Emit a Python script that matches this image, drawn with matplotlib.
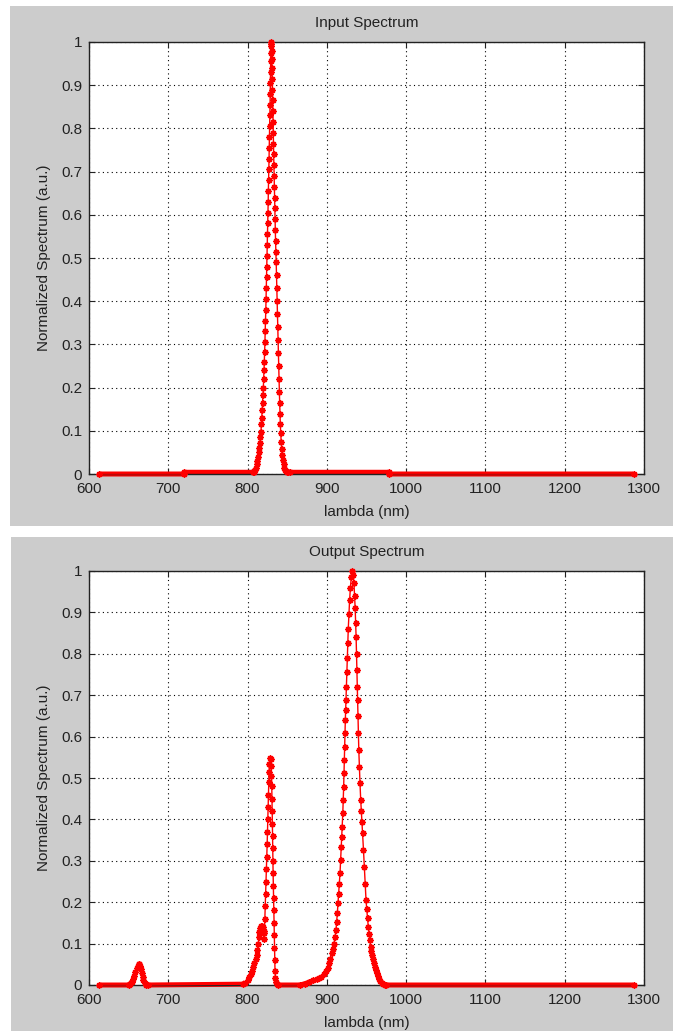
import numpy as np
import matplotlib
matplotlib.use("Agg")
import matplotlib.pyplot as plt
from matplotlib.patches import Rectangle

plt.rcParams['font.family'] = ['Liberation Sans', 'DejaVu Sans']

# --------------------------------------------------
# data (wavelength nm, normalized amplitude)
# --------------------------------------------------
input_wl = [
    613, 720, 720, 806.5,
    807.5, 808.5, 809.5, 810.5, 811.5, 812.5, 813.3, 814.0, 814.8, 815.5,
    816.2, 816.9, 817.4, 817.9, 818.4, 818.9, 819.4, 819.9, 820.3, 820.7,
    821.1, 821.5, 821.9, 822.2, 822.6, 823.0, 823.3, 823.6, 823.9, 824.2,
    824.5, 824.8, 825.1, 825.4, 825.7, 826.0, 826.2, 826.5, 826.8, 827.1,
    827.3, 827.6, 827.8, 828.1, 828.3, 828.6, 828.8, 829.0, 829.2, 829.4,
    829.5, 829.6,
    829.9, 830.2, 830.5, 830.8, 831.1, 831.4, 831.7, 831.9, 832.2, 832.4,
    832.7, 832.9, 833.2, 833.5, 833.8, 834.1, 834.4, 834.7, 835.0, 835.3,
    835.7, 836.1, 836.5, 836.9, 837.3, 837.7, 838.1, 838.5, 838.9, 839.3,
    839.7, 840.1, 840.5, 840.9, 841.3, 841.8, 842.4, 843.0, 843.7, 844.5,
    845.4, 846.4, 847.5, 848.7, 850.0, 851.5,
    853, 978, 978, 1287,
]
input_val = [
    0.0, 0.0, 0.004, 0.004,
    0.005, 0.007, 0.010, 0.015, 0.022, 0.031, 0.040, 0.050, 0.060, 0.072,
    0.085, 0.098, 0.115, 0.130, 0.148, 0.165, 0.183, 0.200, 0.220, 0.240,
    0.260, 0.282, 0.305, 0.330, 0.355, 0.380, 0.405, 0.430, 0.455, 0.480,
    0.505, 0.530, 0.555, 0.580, 0.605, 0.630, 0.655, 0.680, 0.705, 0.730,
    0.755, 0.780, 0.805, 0.830, 0.855, 0.880, 0.905, 0.930, 0.955, 0.975,
    0.990, 1.000,
    0.995, 0.980, 0.960, 0.940, 0.915, 0.890, 0.865, 0.840, 0.815, 0.790,
    0.765, 0.740, 0.715, 0.690, 0.665, 0.640, 0.615, 0.590, 0.565, 0.540,
    0.515, 0.490, 0.460, 0.430, 0.400, 0.370, 0.340, 0.310, 0.280, 0.250,
    0.220, 0.190, 0.165, 0.140, 0.115, 0.095, 0.075, 0.057, 0.043, 0.032,
    0.023, 0.015, 0.010, 0.007, 0.005, 0.004,
    0.004, 0.004, 0.0, 0.0,
]

output_wl = [
    613, 650,
    652, 654, 655.5, 657, 658.5, 660, 661.5, 662.5, 663.5, 664.5, 665.5,
    666.5, 667.5, 668.5, 670, 672,
    674, 794,
    797, 800, 802, 804, 805.5, 807, 808.5, 810, 811.5, 812.5, 813.5, 814.3,
    815.0, 815.7, 816.4, 817.2, 818.0, 818.8, 819.5, 820.2, 820.8, 821.3,
    821.8, 822.3, 822.8, 823.3, 823.8, 824.3, 824.7, 825.1, 825.5, 825.9,
    826.3, 826.7, 827.1, 827.6, 828.3, 829.0, 829.6, 830.1, 830.5, 830.8,
    831.1, 831.3, 831.5, 831.7, 831.9, 832.2, 832.5, 832.8, 833.1, 833.4,
    833.6, 833.9, 834.2, 834.6, 835.0, 835.6, 836.5,
    838, 866,
    872, 878, 883, 887, 890, 893, 896, 899, 901, 903, 904.5, 906, 907.5,
    909, 910.3, 911.5, 912.4, 913.2, 914.0, 914.9, 915.7, 916.6, 917.4,
    918.2, 918.9, 919.5, 920.1, 920.7, 921.2, 921.6, 922.1, 922.5, 922.9,
    923.3, 923.7, 924.1, 924.6, 925.1, 925.7, 926.3, 927.0, 927.8, 928.7,
    929.7, 930.8, 932.0, 933.2, 934.2, 935.0, 935.7, 936.3, 936.9, 937.4,
    937.9, 938.4, 938.8, 939.2, 939.7, 940.3, 941.0, 941.8, 942.7, 943.5,
    944.4, 945.2, 946.2, 947.3, 948.3, 949.4, 950.3, 951.3, 952.3, 953.3,
    954.3, 955.3, 956.3, 957.3, 958.4, 959.4, 960.5, 961.6, 962.8, 964.2,
    965.7, 967.3, 969, 971, 973,
    975, 1287,
]
output_val = [
    0.0, 0.0,
    0.003, 0.008, 0.014, 0.022, 0.031, 0.040, 0.047, 0.051, 0.050, 0.046,
    0.038, 0.029, 0.020, 0.012, 0.005, 0.001,
    0.0, 0.002,
    0.006, 0.012, 0.019, 0.027, 0.035, 0.044, 0.053, 0.063, 0.073, 0.085,
    0.100, 0.115, 0.128, 0.138, 0.142, 0.138, 0.142, 0.132, 0.140, 0.125,
    0.110, 0.130, 0.160, 0.190, 0.220, 0.250, 0.280, 0.310, 0.340, 0.370,
    0.400, 0.430, 0.460, 0.490, 0.515, 0.535, 0.548, 0.545, 0.530, 0.505,
    0.480, 0.450, 0.420, 0.390, 0.360, 0.330, 0.300, 0.270, 0.240, 0.210,
    0.180, 0.150, 0.120, 0.090, 0.060, 0.035, 0.018, 0.008, 0.003,
    0.0, 0.0,
    0.003, 0.007, 0.011, 0.014, 0.017, 0.020, 0.026, 0.033, 0.042, 0.052,
    0.064, 0.077, 0.088, 0.100, 0.117, 0.133, 0.153, 0.173, 0.197, 0.221,
    0.245, 0.270, 0.302, 0.334, 0.358, 0.382, 0.415, 0.447, 0.479, 0.511,
    0.544, 0.576, 0.608, 0.640, 0.664, 0.688, 0.720, 0.755, 0.790, 0.825,
    0.860, 0.895, 0.930, 0.960, 0.985, 1.000, 0.990, 0.970, 0.940, 0.910,
    0.875, 0.840, 0.800, 0.760, 0.720, 0.688, 0.650, 0.608, 0.567, 0.527,
    0.487, 0.447, 0.420, 0.393, 0.366, 0.326, 0.286, 0.245, 0.205, 0.183,
    0.161, 0.140, 0.124, 0.108, 0.092, 0.082, 0.072, 0.062, 0.052, 0.044,
    0.036, 0.028, 0.021, 0.015, 0.010, 0.006, 0.003, 0.001,
    0.0, 0.0,
]

x_ticks = [600, 700, 800, 900, 1000, 1100, 1200, 1300]
y_ticks = [0, 0.1, 0.2, 0.3, 0.4, 0.5, 0.6, 0.7, 0.8, 0.9, 1]


def draw_panel(fig, rect, wl, val, title):
    ax = fig.add_axes(rect)
    wl = np.array(wl)
    val = np.array(val)

    # dense markers along the floor merge into a thick band
    floor = np.where(val < 0.012, val, np.nan)
    ax.plot(wl, floor, color='r', lw=3.6, solid_capstyle='butt',
            zorder=2, clip_on=False)
    ax.plot(wl, val, color='r', lw=1.0, marker=(8, 2, 0), ms=4.5, mew=1.1,
            zorder=3, clip_on=False)

    ax.set_xlim(600, 1300)
    ax.set_ylim(0, 1)
    ax.set_xticks(x_ticks)
    ax.set_yticks(y_ticks)
    ax.set_yticklabels([f"{v:g}" for v in y_ticks])
    ax.tick_params(direction='in', length=4, width=0.8, top=True, right=True,
                   labelsize=11, pad=5, colors='#222222')
    ax.tick_params(axis='x', pad=6)
    ax.grid(True, color='k', linestyle=(0, (1, 3)), linewidth=0.8)
    for s in ax.spines.values():
        s.set_linewidth(1.0)
        s.set_color('#222222')

    ax.set_title(title, fontsize=11, pad=11, color='#222222')
    ax.set_xlabel("lambda (nm)", fontsize=11, labelpad=6, color='#222222')
    ax.set_ylabel("Normalized Spectrum (a.u.)", fontsize=11, labelpad=7,
                  color='#222222')
    return ax


fig = plt.figure(figsize=(6.73, 10.31), dpi=100, facecolor='white')

# grey window backgrounds
fig.add_artist(Rectangle((10 / 673, 1 - 526 / 1031), 663 / 673, 520 / 1031,
                         transform=fig.transFigure, facecolor='#cccccc',
                         edgecolor='none', zorder=-10))
fig.add_artist(Rectangle((11 / 673, 0), 662 / 673, 494 / 1031,
                         transform=fig.transFigure, facecolor='#cccccc',
                         edgecolor='none', zorder=-10))

draw_panel(fig, [89 / 673, 1 - 474 / 1031, 555 / 673, 432 / 1031],
           input_wl, input_val, "Input Spectrum")
draw_panel(fig, [89 / 673, 1 - 985 / 1031, 555 / 673, 414 / 1031],
           output_wl, output_val, "Output Spectrum")

fig.savefig("out.png", dpi=100)
